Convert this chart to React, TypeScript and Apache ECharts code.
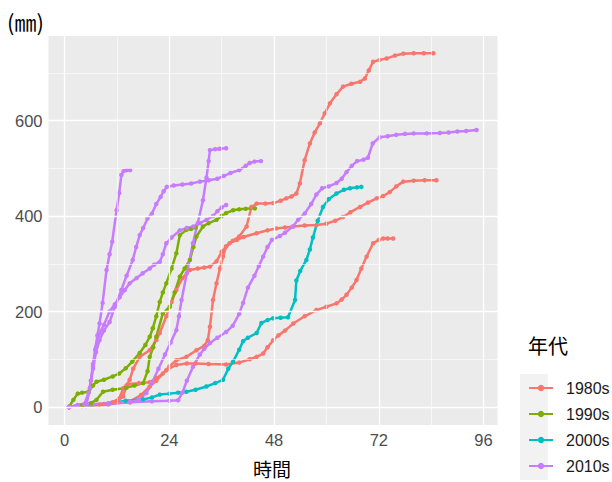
import React, { useEffect, useRef } from "react";
import * as echarts from "echarts";

type Pt = [number, number];

// Decades and ggplot-style hue palette
const decades = ["1980s", "1990s", "2000s", "2010s"];
const decadeColors = ["#F8766D", "#7CAE00", "#00BFC4", "#C77CFF"];

// Axis ticks (hours / mm)
const xTicks = [0, 24, 48, 72, 96];
const xMinor = [12, 36, 60, 84];
const yTicks = [0, 200, 400, 600];
const yMinor = [100, 300, 500, 700];

// Cumulative rainfall per event: [hour, mm]
const rain1980a: Pt[] = [
  [1, 0], [4, 2], [8, 5], [11, 10], [12.5, 18], [13.5, 40], [14.5, 48], [17, 50], [19.5, 52],
  [21, 60], [22.5, 70], [24, 85], [25.6, 98], [27.9, 105], [30.2, 119], [32, 128], [32.8, 140],
  [33.3, 168], [34, 224], [34.8, 259], [35.6, 290], [36.3, 315], [37, 336], [38.5, 348], [40, 357],
  [41.7, 378], [42.8, 419], [44, 426], [46, 426], [47.8, 427], [49.5, 432], [50.8, 437], [52, 441],
  [53.1, 447], [53.9, 468], [55, 517], [56.2, 552], [57.3, 575], [58.5, 594], [59.6, 615],
  [60.8, 636], [62.3, 655], [63.8, 671], [65.7, 677], [67.7, 681], [68.8, 688], [69.7, 705],
  [70.7, 723], [72.2, 727], [73.8, 730], [75.7, 736], [77.6, 740], [80, 741], [82.3, 741], [84.5, 741],
];
const rain1980b: Pt[] = [
  [1, 0], [5, 3], [9, 6], [12, 12], [13.4, 22], [14.2, 45], [14.9, 57], [15.7, 80], [17.2, 105],
  [19.5, 119], [21, 140], [21.8, 155], [23.3, 190], [24.5, 220], [25.6, 245], [27, 270], [28.7, 287],
  [30.5, 290], [32, 292], [33.3, 294], [34.8, 305], [36, 325], [37, 336], [37.8, 343], [39.5, 350],
  [41, 356], [44, 364], [46.5, 370], [48.5, 374], [50.5, 376], [52.4, 378], [55, 380], [57.7, 381],
  [60, 384], [62, 390], [63.8, 398], [65.5, 408], [67.7, 419], [69.5, 428], [71.5, 437], [73, 442],
  [74.5, 450], [76, 462], [77.6, 472], [80, 474], [82.5, 475], [85.2, 475],
];
const rain1980c: Pt[] = [
  [1, 0], [5, 2], [10, 5], [15, 12], [17.5, 25], [19.5, 43], [21, 55], [23.3, 77], [25.6, 88],
  [28, 91], [30, 91], [33, 90], [37, 89], [40, 93], [42.4, 100], [44, 105], [45.5, 112], [46.5, 125],
  [47.8, 140], [49, 150], [50.5, 160], [52.4, 175], [55, 190], [57.7, 203], [60, 210], [62.3, 217],
  [63.5, 225], [64.6, 235], [65.8, 250], [66.9, 266], [68, 290], [69.2, 315], [70.7, 343], [72, 350],
  [73, 353], [74, 353], [75.3, 353],
];
const rain1990a: Pt[] = [
  [1, 0], [2, 15], [3, 28], [4, 30], [5.5, 32], [6.5, 45], [7.3, 53], [9, 57], [11, 64], [12.5, 70],
  [14, 81], [15.5, 95], [17.2, 113], [18.5, 130], [19.5, 147], [20.2, 165], [21, 190], [21.8, 220],
  [22.5, 240], [23.3, 259], [24.5, 290], [25.6, 322], [26.4, 360], [27.9, 371], [29, 373], [30, 376],
];
const rain1990b: Pt[] = [
  [1, 0], [4, 3], [6, 8], [7.3, 15], [8.8, 32], [11, 36], [14.1, 40], [16, 45], [18, 50], [19, 75],
  [19.5, 105], [20.3, 125], [21, 147], [22.5, 196], [24.1, 210], [25.2, 240], [26.4, 273], [27.5, 290],
  [28.7, 308], [29.5, 335], [30.2, 357], [31.7, 378], [33, 385], [34.8, 392], [36, 400], [37, 406],
  [38.6, 412], [40, 414], [41.5, 415], [43.6, 416],
];
const rain2000a: Pt[] = [
  [1, 0], [5, 3], [10, 7], [14, 13], [18, 16], [20, 20], [21.8, 26], [24, 28], [26, 30], [27.9, 32],
  [30, 36], [32.5, 43], [34.5, 50], [36.3, 57], [37.5, 80], [38.6, 95], [40, 120], [40.9, 138],
  [42, 145], [44, 155], [45.1, 176], [46.5, 182], [47.8, 186], [49.5, 187], [51.2, 188], [52.8, 224],
  [53.1, 265], [54, 285], [55.4, 308], [56.2, 330], [56.9, 355], [58, 390], [59.2, 419], [60.5, 435],
  [62.3, 447], [64, 455], [65.4, 458], [67, 460], [68, 461],
];
const rain2010a: Pt[] = [
  [1, 0], [3, 3], [4.5, 6], [5.5, 30], [6, 55], [6.5, 90], [7, 120], [7.5, 150], [8, 175], [8.7, 218],
  [9.6, 287], [10.3, 320], [10.9, 346], [11.9, 412], [12.5, 448], [13, 486], [13.5, 494], [14.2, 496],
  [15, 496],
];
const rain2010b: Pt[] = [
  [1, 0], [3, 4], [5, 8], [5.8, 40], [6.5, 80], [7.2, 115], [8, 140], [9, 160], [10.3, 178], [11.5, 210],
  [13, 245], [14.2, 275], [15.6, 308], [16.4, 335], [17.2, 360], [18, 375], [19, 395], [20, 405],
  [21, 425], [22, 440], [22.7, 452], [23.4, 461], [25, 464], [27, 466], [29, 468], [31, 472], [33, 475],
  [35, 478], [36.5, 484], [38, 490], [40, 496], [41.5, 505], [42.4, 511], [43.5, 514], [45, 515],
];
const rain2010c: Pt[] = [
  [1, 0], [3, 3], [5, 8], [5.8, 40], [6.5, 85], [7.2, 125], [8, 155], [9, 172], [10.3, 200], [11.5, 215],
  [12.6, 230], [13.8, 245], [14.9, 259], [16.5, 270], [17.9, 280], [19.5, 290], [20.5, 298], [21.8, 304],
  [22.5, 320], [23.3, 343], [24.5, 355], [26.4, 370], [28, 375], [29.5, 378], [31, 385], [32.5, 392],
  [34, 400], [35, 410], [36, 418], [37, 423],
];
const rain2010d: Pt[] = [
  [1, 0], [5, 4], [10, 7], [15, 10], [17, 15], [18.7, 29], [20, 50], [21.5, 80], [23, 110], [24.3, 135],
  [25.6, 161], [26.2, 190], [26.8, 224], [28, 280], [29.4, 343], [30.5, 385], [31.7, 433], [32.5, 480],
  [33, 515], [33.3, 538], [34.5, 540], [35.5, 541], [37, 542],
];
const rain2010e: Pt[] = [
  [1, 0], [5, 5], [10, 8], [15, 10], [20, 12], [24, 13], [26, 14], [27, 30], [28, 55], [29.4, 84],
  [31, 110], [32, 122], [33.3, 134], [35, 145], [37, 157], [38.5, 170], [40, 195], [40.9, 218],
  [42, 250], [43.5, 275], [44.5, 295], [45.5, 315], [46.5, 335], [47.5, 350], [49.3, 358], [50.5, 365],
  [52.3, 378], [53.5, 392], [55, 405], [56.5, 425], [57.7, 445], [59, 458], [60.5, 462], [62.3, 469],
  [63.5, 478], [64.6, 492], [65.8, 505], [67, 515], [68.5, 518], [69.5, 522], [70.6, 552], [72.2, 565],
  [74, 567], [76, 570], [78, 572], [80, 573], [83, 573], [86, 574], [88, 575], [90, 577], [92, 578],
  [94.4, 580],
];

const events: { decade: string; values: Pt[] }[] = [
  { decade: "1980s", values: rain1980a },
  { decade: "1980s", values: rain1980b },
  { decade: "1980s", values: rain1980c },
  { decade: "1990s", values: rain1990a },
  { decade: "1990s", values: rain1990b },
  { decade: "2000s", values: rain2000a },
  { decade: "2010s", values: rain2010a },
  { decade: "2010s", values: rain2010b },
  { decade: "2010s", values: rain2010c },
  { decade: "2010s", values: rain2010d },
  { decade: "2010s", values: rain2010e },
];

const LATIN = "'Liberation Sans', Arial, sans-serif";
const CJK = "'Noto Sans CJK JP', 'Noto Sans CJK SC', sans-serif";

export default function App() {
  const ref = useRef<HTMLDivElement>(null);

  useEffect(() => {
    if (!ref.current) return;
    const chart = echarts.init(ref.current, undefined, { renderer: "svg" });

    const gridSeries = (xs: number[], ys: number[], width: number, name: string) => ({
      type: "line",
      name,
      data: [],
      silent: true,
      z: 1,
      markLine: {
        silent: true,
        symbol: ["none", "none"],
        label: { show: false },
        animation: false,
        lineStyle: { color: "#FFFFFF", width, type: "solid" },
        emphasis: { disabled: true },
        data: [...xs.map((v) => ({ xAxis: v })), ...ys.map((v) => ({ yAxis: v }))],
      },
    });

    const lineSeries = events.map((ev) => {
      const color = decadeColors[decades.indexOf(ev.decade)];
      return {
        type: "line",
        name: ev.decade,
        data: ev.values,
        z: 3,
        showSymbol: true,
        symbol: "circle",
        symbolSize: 4.5,
        itemStyle: { color },
        lineStyle: { color, width: 2.5 },
        emphasis: { disabled: true },
      };
    });

    chart.setOption({
      animation: false,
      grid: {
        left: 48.5,
        right: 114.5,
        top: 36,
        bottom: 57,
        show: true,
        backgroundColor: "#EBEBEB",
        borderWidth: 0,
      },
      xAxis: {
        type: "value",
        min: -3.7,
        max: 99.2,
        axisLine: { show: false },
        splitLine: { show: false },
        axisTick: {
          show: true,
          customValues: xTicks,
          length: 4,
          lineStyle: { color: "#333333", width: 1 },
        },
        axisLabel: {
          customValues: xTicks,
          color: "#4D4D4D",
          fontSize: 16.5,
          fontFamily: LATIN,
          margin: 6,
        },
      },
      yAxis: {
        type: "value",
        min: -37.7,
        max: 777,
        axisLine: { show: false },
        splitLine: { show: false },
        axisTick: {
          show: true,
          customValues: yTicks,
          length: 4,
          lineStyle: { color: "#333333", width: 1 },
        },
        axisLabel: {
          customValues: yTicks,
          color: "#4D4D4D",
          fontSize: 16.5,
          fontFamily: LATIN,
          margin: 6,
        },
      },
      legend: {
        data: decades,
        orient: "vertical",
        left: 523,
        top: 375,
        height: 104,
        itemWidth: 24,
        itemHeight: 8,
        itemGap: 10,
        selectedMode: false,
        textStyle: {
          color: "#1A1A1A",
          fontSize: 16,
          fontFamily: LATIN,
          lineHeight: 16,
          padding: [0, 0, 0, 8],
        },
      },
      graphic: [
        {
          type: "rect",
          z: -1,
          shape: { x: 520, y: 374, width: 28, height: 106 },
          style: { fill: "#F2F2F2" },
        },
        {
          type: "text",
          left: 7,
          top: 10,
          style: { text: "(㎜)", fontSize: 22, fontFamily: CJK, fill: "#000000" },
        },
        {
          type: "text",
          x: 272,
          y: 468,
          style: {
            text: "時間",
            fontSize: 19,
            fontFamily: CJK,
            fill: "#000000",
            align: "center",
            verticalAlign: "middle",
          },
        },
        {
          type: "text",
          x: 528,
          y: 345,
          style: {
            text: "年代",
            fontSize: 20,
            fontFamily: CJK,
            fill: "#000000",
            align: "left",
            verticalAlign: "middle",
          },
        },
      ],
      series: [
        gridSeries(xMinor, yMinor, 0.6, "minor-grid"),
        gridSeries(xTicks, yTicks, 1.3, "major-grid"),
        ...lineSeries,
      ],
    });

    return () => chart.dispose();
  }, []);

  return (
    <div
      ref={ref}
      style={{ position: "absolute", left: 0, top: 0, width: 612, height: 482 }}
    />
  );
}
